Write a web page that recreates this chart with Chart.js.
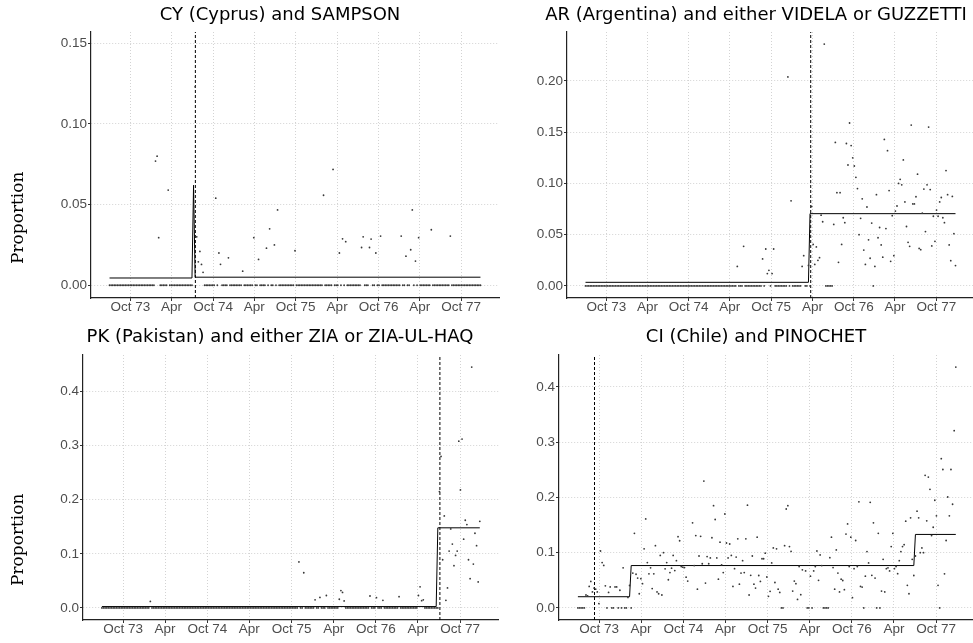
<!DOCTYPE html>
<html>
<head>
<meta charset="utf-8">
<script src="https://cdn.jsdelivr.net/npm/chart.js@4.4.0/dist/chart.umd.min.js"></script>
<style>
  html, body { margin: 0; padding: 0; background: #fff; overflow: hidden; }
  #wrap { position: relative; width: 973px; height: 643px; overflow: hidden; }
  canvas { position: absolute; }
</style>
</head>
<body>
<div id="wrap">
  <canvas id="cy" width="560" height="320" style="left:0px;top:0px"></canvas>
  <canvas id="ar" width="452" height="320" style="left:530px;top:0px"></canvas>
  <canvas id="pk" width="560" height="323" style="left:0px;top:320px"></canvas>
  <canvas id="ci" width="452" height="323" style="left:530px;top:320px"></canvas>
</div>
<script>
// weekly proportions, first week starts 1 Jul 1973 (235 weeks)
const firstWeek = '1973-07-01';
const tickDates = ['1973-10-01', '1974-04-01', '1974-10-01', '1975-04-01', '1975-10-01',
                   '1976-04-01', '1976-10-01', '1977-04-01', '1977-10-01'];
const tickLabels = ['Oct 73', 'Apr', 'Oct 74', 'Apr', 'Oct 75', 'Apr', 'Oct 76', 'Apr', 'Oct 77'];

// CY (Cyprus) and SAMPSON
const cyValues = [
  0,0,0,0,0,0,0,0,0,0,                                   // w0
  0,0,0,0,0,0,0,0,0,0,                                   // w10
  0,0,0,0,0,0,0,0,0,0.077,                               // w20
  0.080,0.0295,0,0,0,0,0,0.059,0,0,                      // w30
  0,0,0,0,0,0,0,0,0,0,                                   // w40
  0,0,0,null,0.123,0.030,0.0145,0.021,0.0129,0.008,      // w50
  0,0,0,0,0,0,0,0.054,0,0.020,                           // w60
  0.013,0,0,0,0,0.017,0,0,0,0,                           // w70
  0,0,0,0,0.0087,0,0,0,0,0,                              // w80
  0,0.0295,0,0,0.016,0,0,0,0,0.023,                      // w90
  0,0.035,0,0,0.025,0,0.0467,0,0,0,                      // w100
  0,0,0,0,0,0,0,0.0214,0,0,                              // w110
  0,0,0,0,0,0,0,0,0,0,                                   // w120
  0,0,0,0,0,0.0558,0,0,0,0,                              // w130
  0,0.0718,0,0,0,0.020,0,0.0288,0,0.027,                 // w140
  0,0,0,0,0,0,0,0,0,0.0234,                              // w150
  0.030,0,0,0,0.0234,0.0286,0,0,0.020,0,                 // w160
  0,0.0305,0,0,0,0,0,0,0,0,                              // w170
  0,0,0,0,0.0305,0,0,0.018,0,0,                          // w180
  0.022,0.0467,0,0.015,0,0.0295,0,0,0,0,                 // w190
  0,0,0,0.0344,0,0,0,0,0,0,                              // w200
  0,0,0,0,0,0.0305,0,0,0,0,                              // w210
  0,0,0,0,0,0,0,0,0,0,                                   // w220
  0,0,0,0,0                                              // w230
];
const cyFitWeeks = [0, 52, 53, 54, 234];
const cyFitValues = [0.0045, 0.0045, 0.062, 0.005, 0.005];
const cyEvent = '1974-07-15';
const cyTicks = [0, 0.05, 0.10, 0.15];
const cyTickLabels = ['0.00', '0.05', '0.10', '0.15'];

// AR (Argentina) and either VIDELA or GUZZETTI
const arValues = [
  0,0,0,0,0,0,0,0,0,0,                                   // w0
  0,0,0,0,0,0,0,0,0,0,                                   // w10
  0,0,0,0,0,0,0,0,0,0,                                   // w20
  0,0,0,0,0,0,0,0,0,0,                                   // w30
  0,0,0,0,0,0,0,0,0,0,                                   // w40
  0,0,0,0,0,0,0,0,0,0,                                   // w50
  0,0,0,0,0,0,0,0,0,0,                                   // w60
  0,0,0,0,0,0,0,0,0,0,                                   // w70
  0,0,0,0,0,0,0,0,0,0,                                   // w80
  0,0,0,0,0,0,0.019,0,0,0,                               // w90
  0.0386,0,0,0,0,0,0,0,0,0,                              // w100
  0,0,0.0263,0,0.036,0.012,0.0152,0,0.012,0.036,         // w110
  0,0,0,0,0,0,0,0,0.204,0,                               // w120
  0.083,0,0,0,0,0,0,0.019,0.0295,0,                      // w130
  0,0.020,0,0.0775,0.0405,0.021,0.038,0.025,0.0276,0.069,        // w140
  0.0626,0.236,0,0,0,0,0,0.060,0.140,0.091,                      // w150
  0.023,0.091,0.0405,0.0665,0.0617,0.139,0.118,0.159,0.137,0.125, // w160
  0.117,0.106,0.095,0.050,0.066,0.085,0.035,0.021,0.077,0.045,    // w170
  0.027,0.0613,0,0.019,0.089,0.047,0.057,0.040,0.028,0.143,       // w180
  0.056,0.132,0.093,0.024,0.0685,0.0295,0.073,0.078,0.100,0.104,  // w190
  0.0987,0.123,0.082,0.058,0.0425,0.0386,0.157,0.080,0.080,0.087, // w200
  0.109,0.0366,0.0354,0.071,0.0945,0.053,0.0987,0.155,0.094,0.039, // w210
  0.068,0.0435,0.074,0.068,0.082,0.0863,0.0665,0.0617,0.1126,0.089, // w220
  0.040,0.0246,0.0873,0.051,0.0198                                // w230
];
const arFitWeeks = [0, 141, 142, 234];
const arFitValues = [0.0035, 0.0035, 0.0705, 0.0705];
const arEvent = '1976-03-24';
const arTicks = [0, 0.05, 0.10, 0.15, 0.20];
const arTickLabels = ['0.00', '0.05', '0.10', '0.15', '0.20'];

// PK (Pakistan) and either ZIA or ZIA-UL-HAQ
const pkValues = [
  0,0,0,0,0,0,0,0,0,0,                                   // w0
  0,0,0,0,0,0,0,0,0,0,                                   // w10
  0,0,0,0,0,0,0,0,0,0,                                   // w20
  0.012,0,0,0,0,0,0,0,0,0,                               // w30
  0,0,0,0,0,0,0,0,0,0,                                   // w40
  0,0,0,0,0,0,0,0,0,0,                                   // w50
  0,0,0,0,0,0,0,0,0,0,                                   // w60
  0,0,0,0,0,0,0,0,0,0,                                   // w70
  0,0,0,0,0,0,0,0,0,0,                                   // w80
  0,0,0,0,0,0,0,0,0,0,                                   // w90
  0,0,0,0,0,0,0,0,0,0,                                   // w100
  0,0,0,0,0,0,0,0,0,0,                                   // w110
  0,0,0.085,0,0,0.065,0,0,0,0,                           // w120
  0,0,0.015,0,0,0.0195,0,0,0,0.023,                      // w130
  0,0,0,0,0,0,0,0.016,0.032,0.0287,                      // w140
  0.013,0,0,0,0,0,0,0,0,0,                               // w150
  0,0,0,0,0,0,0.022,0,0,0,                               // w160
  0.019,0,0,0,0.014,0,0,0,0,0,                           // w170
  0,0,0,0,0.0208,0,0,0,0,0,                              // w180
  0,0,0,0,0,0,0.023,0.039,0.0134,0.015,                  // w190
  0,0,0,0,0,0,0,0,0,0.215,                               // w200
  0.280,0.089,0.170,0.014,0.037,0.105,0.146,0.118,0.078,0.097, // w210
  0.105,0.308,0.218,0.312,0.127,0.162,0.154,0.089,0.054,0.445, // w220
  0.081,0.138,0.115,0.048,0.160                                // w230
];
const pkFitWeeks = [0, 207, 208, 234];
const pkFitValues = [0.0025, 0.0025, 0.148, 0.148];
const pkEvent = '1977-07-05';
const pkTicks = [0, 0.1, 0.2, 0.3, 0.4];
const pkTickLabels = ['0.0', '0.1', '0.2', '0.3', '0.4'];

// CI (Chile) and PINOCHET
const ciValues = [
  0,0,0,0,0,0.0234,0.022,0.039,0.048,0.029,                         // w0
  0.036,0.034,0.029,0.008,0.103,0.082,0.077,0.040,0,0.028,          // w10
  0.038,0,0,0.038,0.038,0,0.032,0,0.0725,0,                         // w20
  0,0.019,0.0406,0,0.063,0.135,0.061,0.054,0.0257,0.053,            // w30
  0.044,0.107,0.161,0.082,0.0617,0.0725,0.035,0.0617,0.1126,0.029,  // w40
  0.0257,0.095,0.0234,0.100,0.0707,0.082,0.051,0.064,0.072,0.095,   // w50
  0.0676,0.0856,0.129,0.1216,0.075,0.0737,0.073,0.0557,0.0486,null, // w60
  null,0.154,0.0767,0.131,0.034,0.094,0.1295,0.080,0.2295,0.045,    // w70
  0.093,0.080,0.0905,0.127,0.185,0.160,0.0905,0.052,0.119,0.078,    // w80
  0.064,0.170,0.1175,0.0905,0.1157,0.095,0.039,0.071,0.092,0.125,   // w90
  0.043,0.063,0.0856,0.064,0.125,0.186,0.0234,0.059,0.094,0.043,    // w100
  0.036,0.128,0.0587,0.048,0.089,0.089,0.099,0.056,0.021,0.030,     // w110
  0.0815,0.1085,0.046,0.107,0.034,0.028,0,0,0.1126,0.179,           // w120
  0.185,0.111,0.1025,0.0306,0.0486,0.044,0.0155,0.075,0.024,0.069,  // w130
  null,0.067,0,0,0.0575,0,0.067,0.075,0.103,0.050,                  // w140
  0.096,0.0767,0,0,0,0,0.091,0.128,0.073,0.034,                     // w150
  0.105,0.063,0.029,0.052,0.0497,0.033,0.1336,0.152,0.075,0.128,    // w160
  0.0185,0.071,0.122,0.075,0.192,0.039,0.0378,0,0.0575,0.102,       // w170
  0.0815,0.191,0.059,0.154,0.054,0,0.135,0,0.0306,0.088,            // w180
  0.029,0.071,0.0725,0.067,0.111,0.135,0.071,0.075,0.062,0.0856,    // w190
  0.102,0.111,0.1144,0.157,0.041,0.0257,0.163,0.088,0.0587,0.094,   // w200
  0.175,0.163,0.100,0.1085,0.100,0.240,0.1576,0.2367,0.2146,0.131,  // w210
  0.146,0.1948,0.1666,0.041,0,0.27,0.2505,0.0617,0.122,0.2007,      // w220
  0.1666,0.2505,0.1876,0.3207,0.4358                                // w230
];
const ciFitWeeks = [0, 32, 33, 208, 209, 234];
const ciFitValues = [0.0203, 0.0203, 0.0767, 0.0767, 0.133, 0.133];
const ciEvent = '1973-09-11';
const ciTicks = [0, 0.1, 0.2, 0.3, 0.4];
const ciTickLabels = ['0.0', '0.1', '0.2', '0.3', '0.4'];

const titleFont = "'DejaVu Sans', sans-serif";
const tickFont = "'Liberation Sans', Arial, sans-serif";
const serifFont = "'DejaVu Serif', serif";

const dayOf = d => (Date.parse(d) - Date.parse(firstWeek)) / 864e5;

function makePanel(id, p) {
  const span = (p.values.length - 1) * 7;
  const eventDay = dayOf(p.event);
  const grid = {
    color: '#d3d3d3', lineWidth: 1,
    tickLength: 3, tickColor: '#333', tickWidth: 1, tickBorderDash: []
  };
  const border = { display: true, color: '#222', width: 1.2, dash: [1, 2] };

  new Chart(document.getElementById(id), {
    type: 'scatter',
    data: {
      datasets: [
        {
          data: p.values.map((v, i) => ({ x: i * 7, y: v })),
          pointRadius: 0.9, pointBorderWidth: 0,
          pointBackgroundColor: '#383838', showLine: false
        },
        {
          type: 'line',
          data: p.fitWeeks.map((w, i) => ({ x: w * 7, y: p.fitValues[i] })),
          borderColor: '#000', borderWidth: 1, pointRadius: 0, fill: false, tension: 0
        },
        {
          type: 'line',
          data: [{ x: eventDay, y: p.yMin }, { x: eventDay, y: p.yMax }],
          borderColor: '#000', borderWidth: 1, borderDash: [3, 2], pointRadius: 0, fill: false
        }
      ]
    },
    options: {
      responsive: false,
      animation: false,
      devicePixelRatio: 1,
      layout: { padding: 0 },
      plugins: {
        legend: { display: false },
        tooltip: { enabled: false },
        title: {
          display: true, text: p.title, color: '#000',
          font: { family: titleFont, size: 18, weight: 'normal' },
          padding: { top: p.titleTop, bottom: p.titleBottom }
        }
      },
      scales: {
        x: {
          type: 'linear', min: -0.05 * span, max: span * 1.05,
          afterBuildTicks: s => { s.ticks = tickDates.map(d => ({ value: dayOf(d) })); },
          afterFit: s => { s.height = p.xAxisH; },
          ticks: {
            callback: (v, i) => tickLabels[i], autoSkip: false, maxRotation: 0,
            color: '#4d4d4d', padding: 0,
            font: { family: tickFont, size: 13.5, lineHeight: 1 }
          },
          grid: grid, border: border
        },
        y: {
          type: 'linear', min: p.yMin, max: p.yMax,
          afterBuildTicks: s => { s.ticks = p.yTicks.map(v => ({ value: v })); },
          afterFit: s => { s.width = p.yAxisW; },
          ticks: {
            callback: (v, i) => p.yTickLabels[i],
            color: '#4d4d4d', padding: 1,
            font: { family: tickFont, size: 13.5 }
          },
          grid: grid, border: border,
          title: {
            display: !!p.yTitle, text: p.yTitle, align: 'start', color: '#000',
            font: { family: serifFont, size: 17 },
            padding: { top: 8.8, bottom: 0 }
          }
        },
        pad: {
          type: 'linear', position: 'right', display: true,
          grid: { display: false }, ticks: { display: false }, border: { display: false },
          afterFit: s => { s.width = p.padRight; }
        }
      }
    }
  });
}

const yLabel = '\u2003\u2003Proportion';

makePanel('cy', {
  title: 'CY (Cyprus) and SAMPSON', values: cyValues, fitWeeks: cyFitWeeks, fitValues: cyFitValues,
  event: cyEvent, yTicks: cyTicks, yTickLabels: cyTickLabels, yMin: -0.0079, yMax: 0.157,
  yTitle: yLabel, yAxisW: 91, padRight: 61, xAxisH: 22, titleTop: 4.2, titleBottom: 6.2
});
makePanel('ar', {
  title: 'AR (Argentina) and either VIDELA or GUZZETTI', values: arValues, fitWeeks: arFitWeeks, fitValues: arFitValues,
  event: arEvent, yTicks: arTicks, yTickLabels: arTickLabels, yMin: -0.0118, yMax: 0.2478,
  yTitle: '', yAxisW: 37, padRight: 8, xAxisH: 22, titleTop: 4.2, titleBottom: 6.2
});
makePanel('pk', {
  title: 'PK (Pakistan) and either ZIA or ZIA-UL-HAQ', values: pkValues, fitWeeks: pkFitWeeks, fitValues: pkFitValues,
  event: pkEvent, yTicks: pkTicks, yTickLabels: pkTickLabels, yMin: -0.0223, yMax: 0.4673,
  yTitle: yLabel, yAxisW: 83, padRight: 61.3, xAxisH: 23, titleTop: 6.7, titleBottom: 6.7
});
makePanel('ci', {
  title: 'CI (Chile) and PINOCHET', values: ciValues, fitWeeks: ciFitWeeks, fitValues: ciFitValues,
  event: ciEvent, yTicks: ciTicks, yTickLabels: ciTickLabels, yMin: -0.0218, yMax: 0.4576,
  yTitle: '', yAxisW: 29, padRight: 7.3, xAxisH: 23, titleTop: 6.7, titleBottom: 6.7
});
</script>
</body>
</html>
